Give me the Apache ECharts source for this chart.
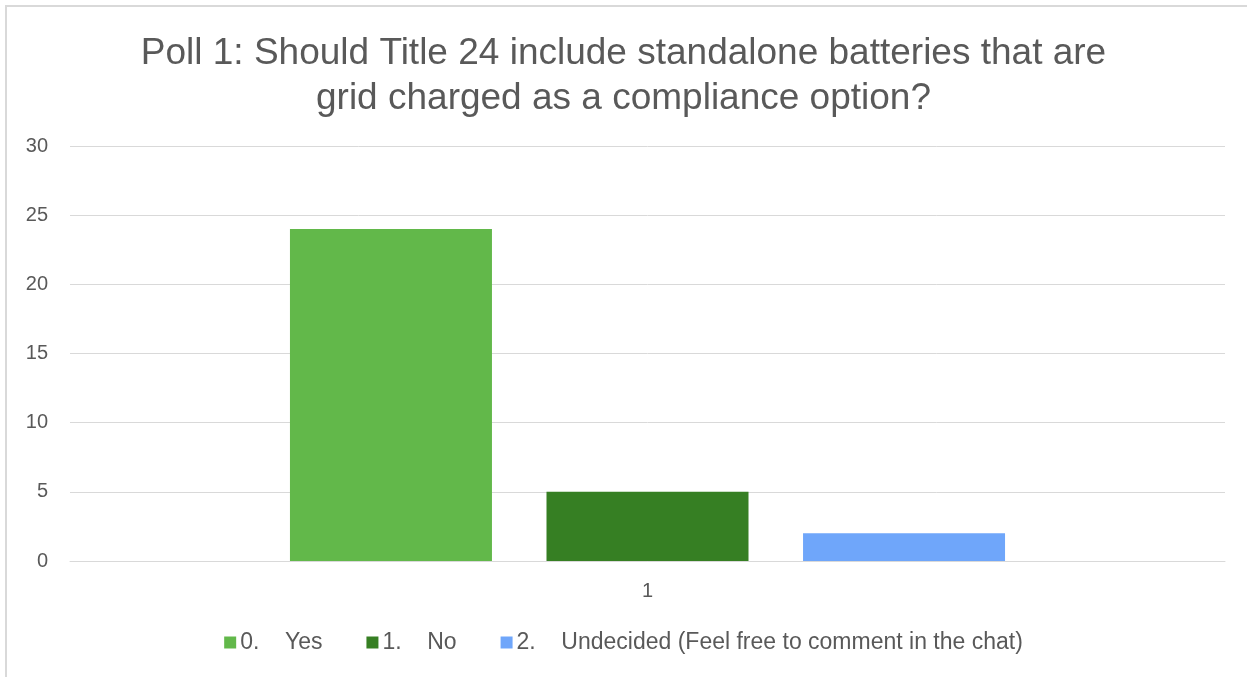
<!DOCTYPE html>
<html>
<head>
<meta charset="utf-8">
<script src="https://cdn.jsdelivr.net/npm/echarts@6/dist/echarts.min.js"></script>
<style>
  html, body { margin: 0; padding: 0; background: #fff; overflow: hidden; }
  #frame { position: absolute; left: 5px; top: 5px; width: 1260px; height: 690px; border: 2px solid #d9d9d9; box-sizing: border-box; }
  #chart { position: absolute; left: 0; top: 0; width: 1247px; height: 677px; }
</style>
</head>
<body>
<div id="frame"></div>
<div id="chart"></div>
<script>
var categories = ['1'];
var seriesNames = ['0.    Yes', '1.    No', '2.    Undecided (Feel free to comment in the chat)'];
var yesValues = [24];
var noValues = [5];
var undecidedValues = [2];
var yTicks = { min: 0, max: 30, interval: 5 };

var colors = ['#62b84a', '#367f23', '#6fa6fa'];

var myChart = echarts.init(document.getElementById('chart'));
var option = {
  backgroundColor: 'transparent',
  animation: false,
  title: {
    text: 'Poll 1: Should Title 24 include standalone batteries that are\ngrid charged as a compliance option?',
    left: 'center',
    top: 26,
    textStyle: {
      fontFamily: 'Liberation Sans',
      fontSize: 37,
      fontWeight: 'normal',
      color: '#595959',
      lineHeight: 45
    }
  },
  legend: {
    top: 626,
    left: 'center',
    itemWidth: 12,
    itemHeight: 12,
    itemGap: 44,
    icon: 'rect',
    textStyle: { fontFamily: 'Liberation Sans', fontSize: 23, color: '#595959', padding: [0, 0, 0, -1] },
    data: seriesNames
  },
  grid: { left: 70, right: 22, top: 146, bottom: 116 },
  xAxis: {
    type: 'category',
    data: categories,
    axisTick: { show: false },
    axisLine: { lineStyle: { color: '#d9d9d9', width: 1 } },
    axisLabel: { fontFamily: 'Liberation Sans', fontSize: 20, color: '#595959', margin: 20 }
  },
  yAxis: {
    type: 'value',
    min: yTicks.min,
    max: yTicks.max,
    interval: yTicks.interval,
    axisLine: { show: false },
    axisTick: { show: false },
    splitLine: { lineStyle: { color: '#d9d9d9', width: 1 } },
    axisLabel: { fontFamily: 'Liberation Sans', fontSize: 20, color: '#595959', margin: 22 }
  },
  series: [
    { name: seriesNames[0], type: 'bar', data: yesValues, barWidth: 202, barGap: '27%', itemStyle: { color: colors[0] } },
    { name: seriesNames[1], type: 'bar', data: noValues, barWidth: 202, barGap: '27%', itemStyle: { color: colors[1] } },
    { name: seriesNames[2], type: 'bar', data: undecidedValues, barWidth: 202, barGap: '27%', itemStyle: { color: colors[2] } }
  ]
};
myChart.setOption(option);
</script>
</body>
</html>
